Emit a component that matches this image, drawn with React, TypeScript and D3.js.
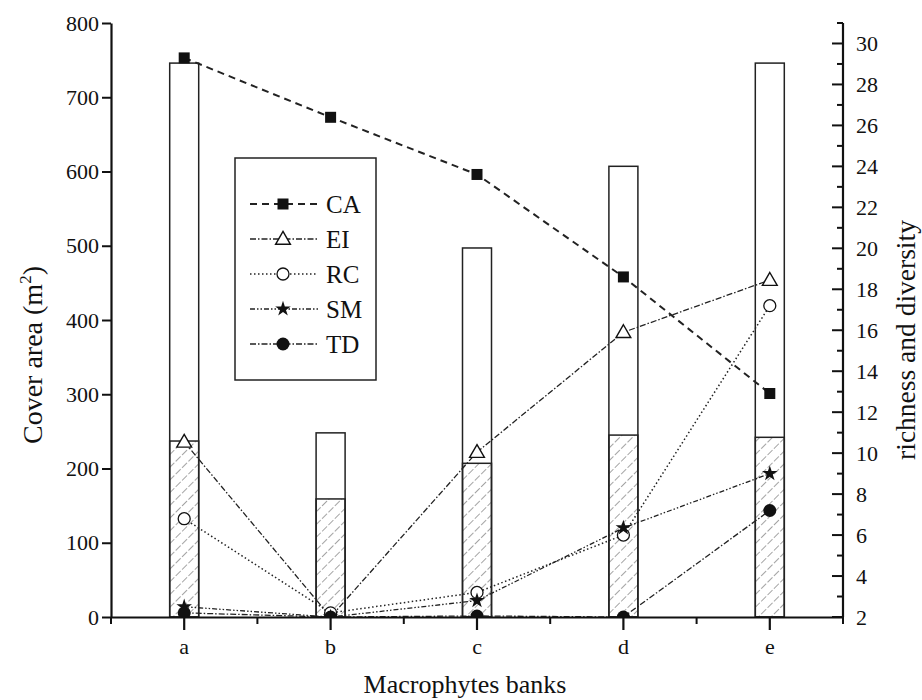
import React, { useRef, useEffect } from "react";
import * as d3 from "d3";

// banks on the x axis
const banks = ["a", "b", "c", "d", "e"];
// open bars and hatched bars, cover area (m2)
const totalArea = [746, 248, 497, 607, 746];
const hatchedArea = [237, 159, 207, 245, 242];
// CA line, read on the left axis
const CA = [753, 673, 596, 458, 301];
// the four index lines, read on the right axis
const EI = [10.55, 2.0, 10.05, 15.9, 18.45];
const RC = [6.8, 2.2, 3.2, 6.0, 17.2];
const SM = [2.5, 2.0, 2.8, 6.35, 9.0];
const TD = [2.2, 2.0, 2.05, 2.0, 7.2];

const leftTicks = [0, 100, 200, 300, 400, 500, 600, 700, 800];
const rightMajor = [2, 4, 6, 8, 10, 12, 14, 16, 18, 20, 22, 24, 26, 28, 30];
const rightMinor = [3, 5, 7, 9, 11, 13, 15, 17, 19, 21, 23, 25, 27, 29, 31];

const FONT = "Liberation Serif, Times New Roman, DejaVu Serif, serif";

const App = () => {
  const svgRef = useRef();
  const width = 922;
  const height = 700;
  const margin = { top: 23, right: 79, bottom: 83, left: 111 };

  useEffect(() => {
    const svg = d3.select(svgRef.current);
    svg.selectAll("*").remove();

    const x0 = margin.left;
    const x1 = width - margin.right;
    const y0 = height - margin.bottom;
    const y1 = margin.top;

    const x = d3.scaleBand().domain(banks).range([x0, x1]);
    const yL = d3.scaleLinear().domain([0, 800]).range([y0, y1]);
    const yR = d3.scaleLinear().domain([2, 31]).range([y0, y1]);
    const cx = (d) => x(d) + x.bandwidth() / 2;
    const barW = 29;

    const defs = svg.append("defs");
    const pat = defs
      .append("pattern")
      .attr("id", "hatch")
      .attr("patternUnits", "userSpaceOnUse")
      .attr("width", 9)
      .attr("height", 9)
      .attr("patternTransform", "rotate(45)");
    pat
      .append("line")
      .attr("x1", 0)
      .attr("y1", 0)
      .attr("x2", 0)
      .attr("y2", 9)
      .attr("stroke", "#333")
      .attr("stroke-width", 0.9)
      .attr("stroke-dasharray", "4,2");

    defs
      .append("clipPath")
      .attr("id", "plot")
      .append("rect")
      .attr("x", x0)
      .attr("y", y1 - 10)
      .attr("width", x1 - x0)
      .attr("height", y0 - y1 + 10);

    // open bars
    svg
      .append("g")
      .selectAll("rect")
      .data(banks)
      .join("rect")
      .attr("x", (d) => cx(d) - barW / 2)
      .attr("width", barW)
      .attr("y", (d, i) => yL(totalArea[i]))
      .attr("height", (d, i) => y0 - yL(totalArea[i]))
      .attr("fill", "white")
      .attr("stroke", "#222")
      .attr("stroke-width", 1.5);

    // hatched bars
    svg
      .append("g")
      .selectAll("rect")
      .data(banks)
      .join("rect")
      .attr("x", (d) => cx(d) - barW / 2)
      .attr("width", barW)
      .attr("y", (d, i) => yL(hatchedArea[i]))
      .attr("height", (d, i) => y0 - yL(hatchedArea[i]))
      .attr("fill", "url(#hatch)")
      .attr("stroke", "#222")
      .attr("stroke-width", 1.5);

    const series = [
      { name: "CA", values: CA, scale: yL, dash: "7,5", sw: 2, marker: "square" },
      { name: "EI", values: EI, scale: yR, dash: "6,2,1.5,2", sw: 1.3, marker: "triangle" },
      { name: "RC", values: RC, scale: yR, dash: "1.5,2.5", sw: 1.5, marker: "circle" },
      { name: "SM", values: SM, scale: yR, dash: "5,2,1.5,2,1.5,2", sw: 1.3, marker: "star" },
      { name: "TD", values: TD, scale: yR, dash: "6,2,1.5,2", sw: 1.3, marker: "dot" },
    ];

    const drawMarker = (g, type, px, py) => {
      if (type === "square") {
        g.append("rect")
          .attr("x", px - 5.5)
          .attr("y", py - 5.5)
          .attr("width", 11)
          .attr("height", 11)
          .attr("fill", "#111");
      } else if (type === "triangle") {
        g.append("path")
          .attr("d", d3.symbol(d3.symbolTriangle, 95)())
          .attr("transform", `translate(${px},${py + 1})`)
          .attr("fill", "white")
          .attr("stroke", "#111")
          .attr("stroke-width", 1.4);
      } else if (type === "circle") {
        g.append("circle")
          .attr("cx", px)
          .attr("cy", py)
          .attr("r", 6)
          .attr("fill", "white")
          .attr("stroke", "#111")
          .attr("stroke-width", 1.3);
      } else if (type === "star") {
        g.append("path")
          .attr("d", d3.symbol(d3.symbolStar, 75)())
          .attr("transform", `translate(${px},${py})`)
          .attr("fill", "#111");
      } else {
        g.append("circle")
          .attr("cx", px)
          .attr("cy", py)
          .attr("r", 6.5)
          .attr("fill", "#111");
      }
    };

    const plot = svg.append("g").attr("clip-path", "url(#plot)");
    series.forEach((s) => {
      const line = d3
        .line()
        .x((d, i) => cx(banks[i]))
        .y((d) => s.scale(d));
      plot
        .append("path")
        .datum(s.values)
        .attr("d", line)
        .attr("fill", "none")
        .attr("stroke", "#222")
        .attr("stroke-width", s.sw)
        .attr("stroke-dasharray", s.dash);
    });
    series.forEach((s) => {
      s.values.forEach((v, i) => drawMarker(plot, s.marker, cx(banks[i]), s.scale(v)));
    });

    // left axis
    const gl = svg
      .append("g")
      .attr("transform", `translate(${x0},0)`)
      .call(d3.axisLeft(yL).tickValues(leftTicks).tickSize(9).tickPadding(3).tickSizeOuter(0));
    gl.select(".domain").attr("stroke", "#111").attr("stroke-width", 2.2);
    gl.selectAll(".tick line").attr("stroke", "#111").attr("stroke-width", 2);
    gl.selectAll(".tick text").attr("font-family", FONT).attr("font-size", 22).attr("fill", "#111");

    // right axis: ticks point inward, labels outside
    const gr = svg.append("g").attr("transform", `translate(${x1},0)`);
    gr.append("line")
      .attr("y1", y0)
      .attr("y2", y1)
      .attr("stroke", "#111")
      .attr("stroke-width", 2.2);
    gr.selectAll(".maj")
      .data(rightMajor)
      .join("line")
      .attr("x1", -11)
      .attr("x2", 0)
      .attr("y1", (d) => yR(d))
      .attr("y2", (d) => yR(d))
      .attr("stroke", "#111")
      .attr("stroke-width", 2);
    gr.selectAll(".min")
      .data(rightMinor)
      .join("line")
      .attr("x1", -6)
      .attr("x2", 0)
      .attr("y1", (d) => yR(d))
      .attr("y2", (d) => yR(d))
      .attr("stroke", "#111")
      .attr("stroke-width", 2);
    gr.selectAll("text")
      .data(rightMajor)
      .join("text")
      .attr("x", 13)
      .attr("y", (d) => yR(d))
      .attr("dy", "0.35em")
      .attr("font-family", FONT)
      .attr("font-size", 22)
      .attr("fill", "#111")
      .text((d) => d);

    // bottom axis
    const gb = svg
      .append("g")
      .attr("transform", `translate(0,${y0})`)
      .call(d3.axisBottom(x).tickSize(13).tickPadding(8).tickSizeOuter(0));
    gb.select(".domain").attr("stroke", "#111").attr("stroke-width", 2.2);
    gb.selectAll(".tick line").attr("stroke", "#111").attr("stroke-width", 2.2);
    gb.selectAll(".tick text").attr("font-family", FONT).attr("font-size", 22).attr("fill", "#111");
    const edges = banks.map((d) => x(d)).concat([x1]);
    gb.selectAll(".minor")
      .data(edges)
      .join("line")
      .attr("x1", (d) => d)
      .attr("x2", (d) => d)
      .attr("y1", 0)
      .attr("y2", 7)
      .attr("stroke", "#111")
      .attr("stroke-width", 2);

    // axis titles
    svg
      .append("text")
      .attr("x", 465)
      .attr("y", 693)
      .attr("text-anchor", "middle")
      .attr("font-family", FONT)
      .attr("font-size", 26)
      .attr("fill", "#111")
      .text("Macrophytes banks");

    const lt = svg
      .append("text")
      .attr("transform", `translate(42,355) rotate(-90)`)
      .attr("text-anchor", "middle")
      .attr("font-family", FONT)
      .attr("font-size", 28)
      .attr("fill", "#111");
    lt.append("tspan").text("Cover area (m");
    lt.append("tspan").attr("font-size", 17).attr("dy", -11).text("2");
    lt.append("tspan").attr("dy", 11).text(")");

    svg
      .append("text")
      .attr("transform", `translate(915,340) rotate(-90)`)
      .attr("text-anchor", "middle")
      .attr("font-family", FONT)
      .attr("font-size", 27.5)
      .attr("fill", "#111")
      .text("richness and diversity");

    // legend
    const lg = svg.append("g");
    lg.append("rect")
      .attr("x", 235)
      .attr("y", 158)
      .attr("width", 141)
      .attr("height", 222)
      .attr("fill", "white")
      .attr("stroke", "#222")
      .attr("stroke-width", 1.5);
    series.forEach((s, i) => {
      const ly = 204 + i * 35;
      lg.append("line")
        .attr("x1", 250)
        .attr("x2", 318)
        .attr("y1", ly)
        .attr("y2", ly)
        .attr("stroke", "#222")
        .attr("stroke-width", s.sw)
        .attr("stroke-dasharray", s.dash);
      drawMarker(lg, s.marker, 283, ly);
      lg.append("text")
        .attr("x", 326)
        .attr("y", ly)
        .attr("dy", "0.35em")
        .attr("font-family", FONT)
        .attr("font-size", 25)
        .attr("fill", "#111")
        .text(s.name);
    });
  }, []);

  return (
    <svg
      ref={svgRef}
      width={width}
      height={height}
      style={{ position: "absolute", left: 0, top: 0, background: "white" }}
    ></svg>
  );
};

export default App;
